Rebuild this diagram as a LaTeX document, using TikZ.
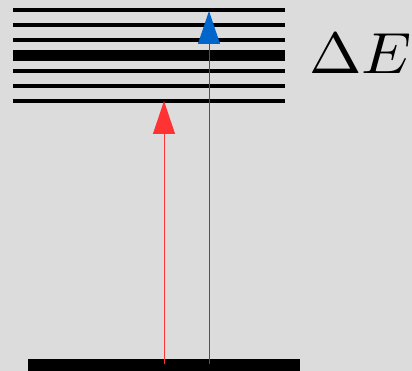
\documentclass[tikz,border=0pt]{standalone}
\usetikzlibrary{arrows.meta}
\definecolor{bg}{RGB}{220,220,220}
\definecolor{redA}{RGB}{255,51,51}
\definecolor{blueA}{RGB}{0,102,204}
\begin{document}
\begin{tikzpicture}[x=1pt,y=-1pt,
  level/.style={line width=3.7pt,black},
  thicklevel/.style={line width=11pt,black},
  ground/.style={line width=12pt,black},
  excite/.style={line width=1pt,-{Triangle[length=33pt,width=22pt]}}]
\fill[bg] (0,0) rectangle (412,371);
\useasboundingbox (0,0) rectangle (412,371);
\foreach \y in {10,25,40,70.7,85.7,100.7}
  \draw[level] (13,\y) -- (285,\y);
\draw[thicklevel] (13,55.5) -- (285,55.5);
\coordinate (g1) at (28,365);
\coordinate (g2) at (300,365);
\draw[ground] (g1) -- (g2);
\coordinate (r0) at (164,364);
\coordinate (r1) at (164,101);
\coordinate (b0) at (209,364);
\coordinate (b1) at (209,11);
\draw[excite,redA] (r0) -- (r1);
\draw[excite,blueA] (b0) -- (b1);
\node[anchor=base west,inner sep=0pt] (dE) at (309,73.3) {\scalebox{6.3}[5.8]{$\Delta E$}};
\end{tikzpicture}
\end{document}
